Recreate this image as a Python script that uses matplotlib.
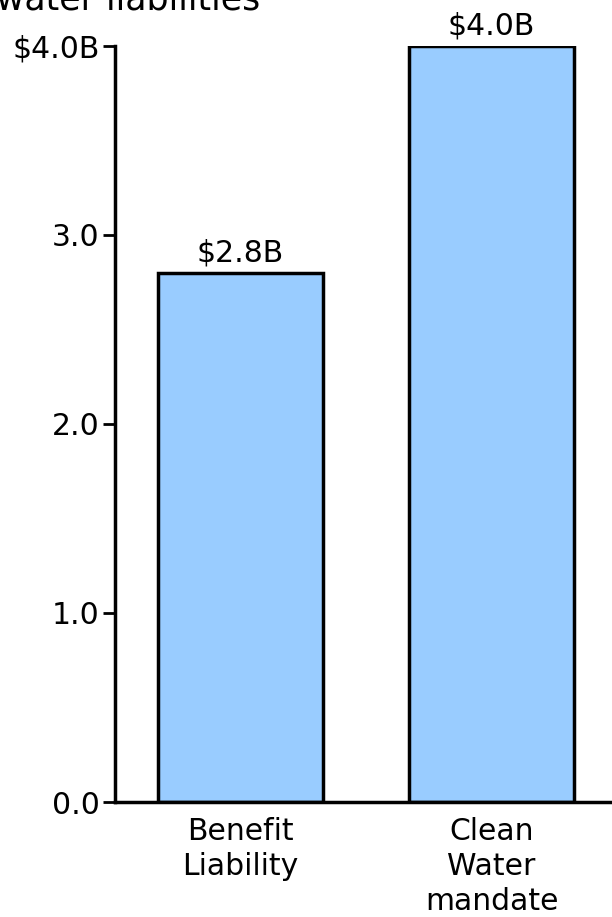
import matplotlib
matplotlib.use("Agg")
import matplotlib.pyplot as plt

categories = ["Benefit\nLiability", "Clean\nWater\nmandate"]
values = [2.8, 4.0]
value_labels = ["$2.8B", "$4.0B"]
yticks = [0.0, 1.0, 2.0, 3.0, 4.0]
ytick_labels = ["0.0", "1.0", "2.0", "3.0", "$4.0B"]

plt.rcParams["font.family"] = ["DejaVu Sans"]
FS = 21.5

fig = plt.figure(figsize=(6.12, 9.17), dpi=100)
ax = fig.add_axes([115 / 612, 1 - 802 / 917, 502 / 612, 756 / 917])

x = list(range(len(categories)))
bars = ax.bar(x, values, width=0.66, color="#99ccff", edgecolor="black", linewidth=2.5, zorder=2)

for xi, v, lab in zip(x, values, value_labels):
    ax.annotate(lab, (xi, v), xytext=(0, 4), textcoords="offset points",
                ha="center", va="bottom", fontsize=FS)

ax.set_xlim(-0.5, 1.5)
ax.set_ylim(0, 4.0)
ax.set_yticks(yticks)
ax.set_yticklabels(ytick_labels, fontsize=FS)
ax.set_xticks(x)
ax.set_xticklabels(categories, fontsize=FS, linespacing=1.25)
ax.tick_params(axis="x", length=0, pad=11)
ax.tick_params(axis="y", length=9, width=2, pad=2)

for side in ("top", "right"):
    ax.spines[side].set_visible(False)
for side in ("left", "bottom"):
    ax.spines[side].set_linewidth(2.5)

fig.text(-0.006, 1 - 9 / 917, "water liabilities", fontsize=25, ha="left", va="baseline")

fig.savefig("out.png", dpi=100)
